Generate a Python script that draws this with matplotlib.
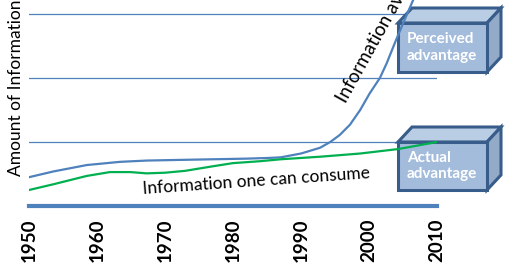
import numpy as np
import matplotlib.pyplot as plt
from matplotlib.patches import Polygon

plt.rcParams['font.family'] = ['Lato', 'DejaVu Sans']

# ---- data ----
tick_years = [1950, 1960, 1970, 1980, 1990, 2000, 2010]

avail_years = [1950, 1953.6, 1958.5, 1963.4, 1967.3, 1972, 1977, 1982, 1985,
               1987, 1990, 1992.8, 1994.3, 1995.7, 1997.2, 1998.7, 2000.1,
               2001.6, 2002.6, 2004, 2005.6, 2006.5, 2007.5]
avail_vals = [0.45, 0.54, 0.64, 0.69, 0.71, 0.72, 0.73, 0.74, 0.75,
              0.76, 0.82, 0.91, 1.00, 1.11, 1.27, 1.50, 1.76,
              2.00, 2.23, 2.60, 3.0, 3.22, 3.5]

consume_years = [1950, 1953.6, 1958.5, 1961.9, 1964.9, 1967.3, 1970, 1973,
                 1977, 1980, 1984, 1987, 1992.8, 1998.7, 2004.3, 2010]
consume_vals = [0.25, 0.34, 0.47, 0.53, 0.53, 0.51, 0.52, 0.55,
                0.62, 0.67, 0.70, 0.73, 0.77, 0.82, 0.89, 1.0]

grid_levels = [1, 2, 3]

W, H = 519, 272
BLUE = '#4f81bd'
GREEN = '#00b050'

fig = plt.figure(figsize=(W / 100, H / 100), dpi=100)
ax = fig.add_axes([29 / W, (H - 206) / H, (437 - 29) / W, 206 / H])
ax.set_xlim(1950, 2010)
ax.set_ylim(0, 206 / 64)

for s in ['top', 'right', 'left']:
    ax.spines[s].set_visible(False)
ax.spines['bottom'].set_color(BLUE)
ax.spines['bottom'].set_linewidth(3)

for g in grid_levels:
    ax.axhline(g, color=BLUE, lw=0.9, zorder=1)

ax.set_xticks(tick_years)
ax.set_xticklabels([str(y) for y in tick_years], rotation=90, fontsize=13.5,
                   fontweight='bold')
ax.tick_params(axis='x', length=0, pad=9)
ax.set_yticks([])

fig.text(16 / W, 1 - 176 / H, 'Amount of Information', fontsize=12.5,
         rotation=90, ha='center', va='bottom')


def px(x, y):
    return (x / W, 1 - y / H)


def box(x0, y0, x1, y1, dx, dy, label):
    front = [px(x0, y0), px(x1, y0), px(x1, y1), px(x0, y1)]
    top = [px(x0, y0), px(x0 + dx, y0 - dy), px(x1 + dx, y0 - dy), px(x1, y0)]
    side = [px(x1, y0), px(x1 + dx, y0 - dy), px(x1 + dx, y1 - dy), px(x1, y1)]
    for pts, c in [(top, '#b9cde5'), (side, '#93abc9'), (front, '#a4bcdc')]:
        ax.add_patch(Polygon(pts, closed=True, facecolor=c, edgecolor='#385d8a',
                             lw=2.2, joinstyle='miter', transform=fig.transFigure,
                             clip_on=False, zorder=2))
    fig.text((x0 + 9) / W, 1 - ((y0 + y1) / 2) / H, label, color='white',
             fontsize=11, fontweight='bold', va='center', ha='left',
             linespacing=1.25, zorder=3)


box(398, 23, 487, 72, 14, 15, 'Perceived\nadvantage')
box(398, 142, 487, 190, 14, 15, 'Actual\nadvantage')

ax.plot(avail_years, avail_vals, color=BLUE, lw=1.6, solid_joinstyle='round',
        zorder=4)
ax.plot(consume_years, consume_vals, color=GREEN, lw=1.6,
        solid_joinstyle='round', zorder=4)

fig.text(256 / W, 1 - 181 / H, 'Information one can consume', fontsize=12.5,
         rotation=4, ha='center', va='center', rotation_mode='anchor')
fig.text(346 / W, 1 - 104 / H, 'Information available', fontsize=13.5,
         rotation=61, ha='left', va='baseline', rotation_mode='anchor')

fig.savefig('out.png', dpi=100)
